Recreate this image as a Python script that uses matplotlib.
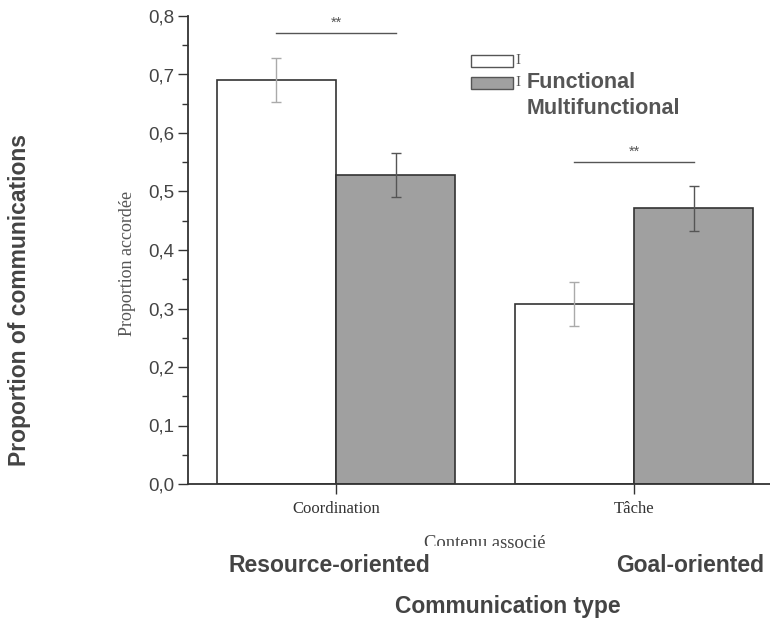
import matplotlib
matplotlib.use("Agg")
import matplotlib.pyplot as plt
from matplotlib.patches import Rectangle
from matplotlib.ticker import MultipleLocator, FuncFormatter

categories = ["Coordination", "Tâche"]
functional = [0.691, 0.308]
functional_err = [0.038, 0.038]
multifunctional = [0.528, 0.471]
multifunctional_err = [0.037, 0.038]
legend_labels = ["Functional", "Multifunctional"]
group_labels = ["Resource-oriented", "Goal-oriented"]
sig_marks = ["**", "**"]
sig_levels = [0.771, 0.550]

SANS = "Liberation Sans"
SERIF = "Liberation Serif"
TXT = "#444444"

fig = plt.figure(figsize=(7.7, 6.22), dpi=100)
ax = fig.add_axes([188 / 770, 1 - 484 / 622, 582 / 770, 468 / 622])

w = 0.4
x = list(range(len(categories)))
xl = [i - w / 2 for i in x]
xr = [i + w / 2 for i in x]

ax.bar(xl, functional, width=w, color="white", edgecolor="#333333", linewidth=1.2, zorder=2)
ax.bar(xr, multifunctional, width=w, color="#a0a0a0", edgecolor="#333333", linewidth=1.2, zorder=2)
ax.errorbar(xl, functional, yerr=functional_err, fmt="none", ecolor="#aaaaaa",
            elinewidth=1.0, capsize=3.8, capthick=1.0, zorder=3)
ax.errorbar(xr, multifunctional, yerr=multifunctional_err, fmt="none", ecolor="#555555",
            elinewidth=1.0, capsize=3.8, capthick=1.0, zorder=3)

# significance brackets
for i, (lvl, mark) in enumerate(zip(sig_levels, sig_marks)):
    ax.plot([i - 0.2, i + 0.2], [lvl, lvl], color="#555555", lw=1.0, clip_on=False)
    ax.text(i, lvl + 0.006, mark, ha="center", va="bottom", fontsize=10.5,
            family=SANS, color="#555555")

ax.set_xlim(-148 / 298, 1 + 136 / 298)
ax.set_ylim(0, 0.8)
ax.yaxis.set_major_locator(MultipleLocator(0.1))
ax.yaxis.set_minor_locator(MultipleLocator(0.05))
ax.yaxis.set_major_formatter(FuncFormatter(lambda v, p: f"{v:.1f}".replace(".", ",")))
ax.set_xticks(x)
ax.set_xticklabels(categories, family=SERIF, fontsize=12, color="#333333")

for s in ["top", "right"]:
    ax.spines[s].set_visible(False)
for s in ["left", "bottom"]:
    ax.spines[s].set_color("#333333")
    ax.spines[s].set_linewidth(1.3)
ax.tick_params(axis="y", which="major", length=7, width=1.0, color="#333333",
               labelsize=13.5, labelcolor=TXT, pad=3)
for lab in ax.get_yticklabels():
    lab.set_family(SANS)
ax.tick_params(axis="y", which="minor", length=4.5, width=1.0, color="#333333")
ax.tick_params(axis="x", length=7, width=1.0, color="#333333", pad=5)

ax.text(127 / 770, 1 - 263 / 622, "Proportion accordée", transform=fig.transFigure,
        rotation=90, ha="center", va="center", family=SERIF, fontsize=13, color="#555555")

# legend boxes; only the stems of the old labels remain beside them
fig.add_artist(Rectangle((471 / 770, 1 - 67 / 622), 42 / 770, 12 / 622,
                         transform=fig.transFigure, facecolor="white",
                         edgecolor="#555555", lw=1.0))
fig.add_artist(Rectangle((471 / 770, 1 - 89 / 622), 42 / 770, 12 / 622,
                         transform=fig.transFigure, facecolor="#a0a0a0",
                         edgecolor="#555555", lw=1.0))
fig.text(515 / 770, 1 - 61 / 622, "I", ha="left", va="center",
         family=SERIF, fontsize=11, color="#555555")
fig.text(515 / 770, 1 - 83 / 622, "I", ha="left", va="center",
         family=SERIF, fontsize=11, color="#555555")
fig.text(527 / 770, 1 - 82 / 622, legend_labels[0], ha="left", va="center",
         family=SANS, fontweight="bold", fontsize=15.5, color="#555555", zorder=6)
fig.text(527 / 770, 1 - 108 / 622, legend_labels[1], ha="left", va="center",
         family=SANS, fontweight="bold", fontsize=15.5, color="#555555", zorder=6)

# French axis title, cut off along its lower edge
fig.text(485 / 770, 1 - 544 / 622, "Contenu associé", ha="center", va="center",
         family=SERIF, fontsize=13.4, color="#444444")
fig.add_artist(Rectangle((0.35, 1 - 562 / 622), 0.3, 16 / 622, transform=fig.transFigure,
                         facecolor="white", edgecolor="none", zorder=10))

fig.text(20 / 770, 1 - 300 / 622, "Proportion of communications", rotation=90,
         ha="center", va="center", family=SANS, fontweight="bold", fontsize=16.5, color=TXT)
fig.text(329 / 770, 1 - 565 / 622, group_labels[0], ha="center", va="center",
         family=SANS, fontweight="bold", fontsize=16.5, color=TXT, zorder=11)
fig.text(690 / 770, 1 - 565 / 622, group_labels[1], ha="center", va="center",
         family=SANS, fontweight="bold", fontsize=16.5, color=TXT, zorder=11)
fig.text(508 / 770, 1 - 607 / 622, "Communication type", ha="center", va="center",
         family=SANS, fontweight="bold", fontsize=16.5, color=TXT, zorder=11)

fig.savefig("out.png", dpi=100)
